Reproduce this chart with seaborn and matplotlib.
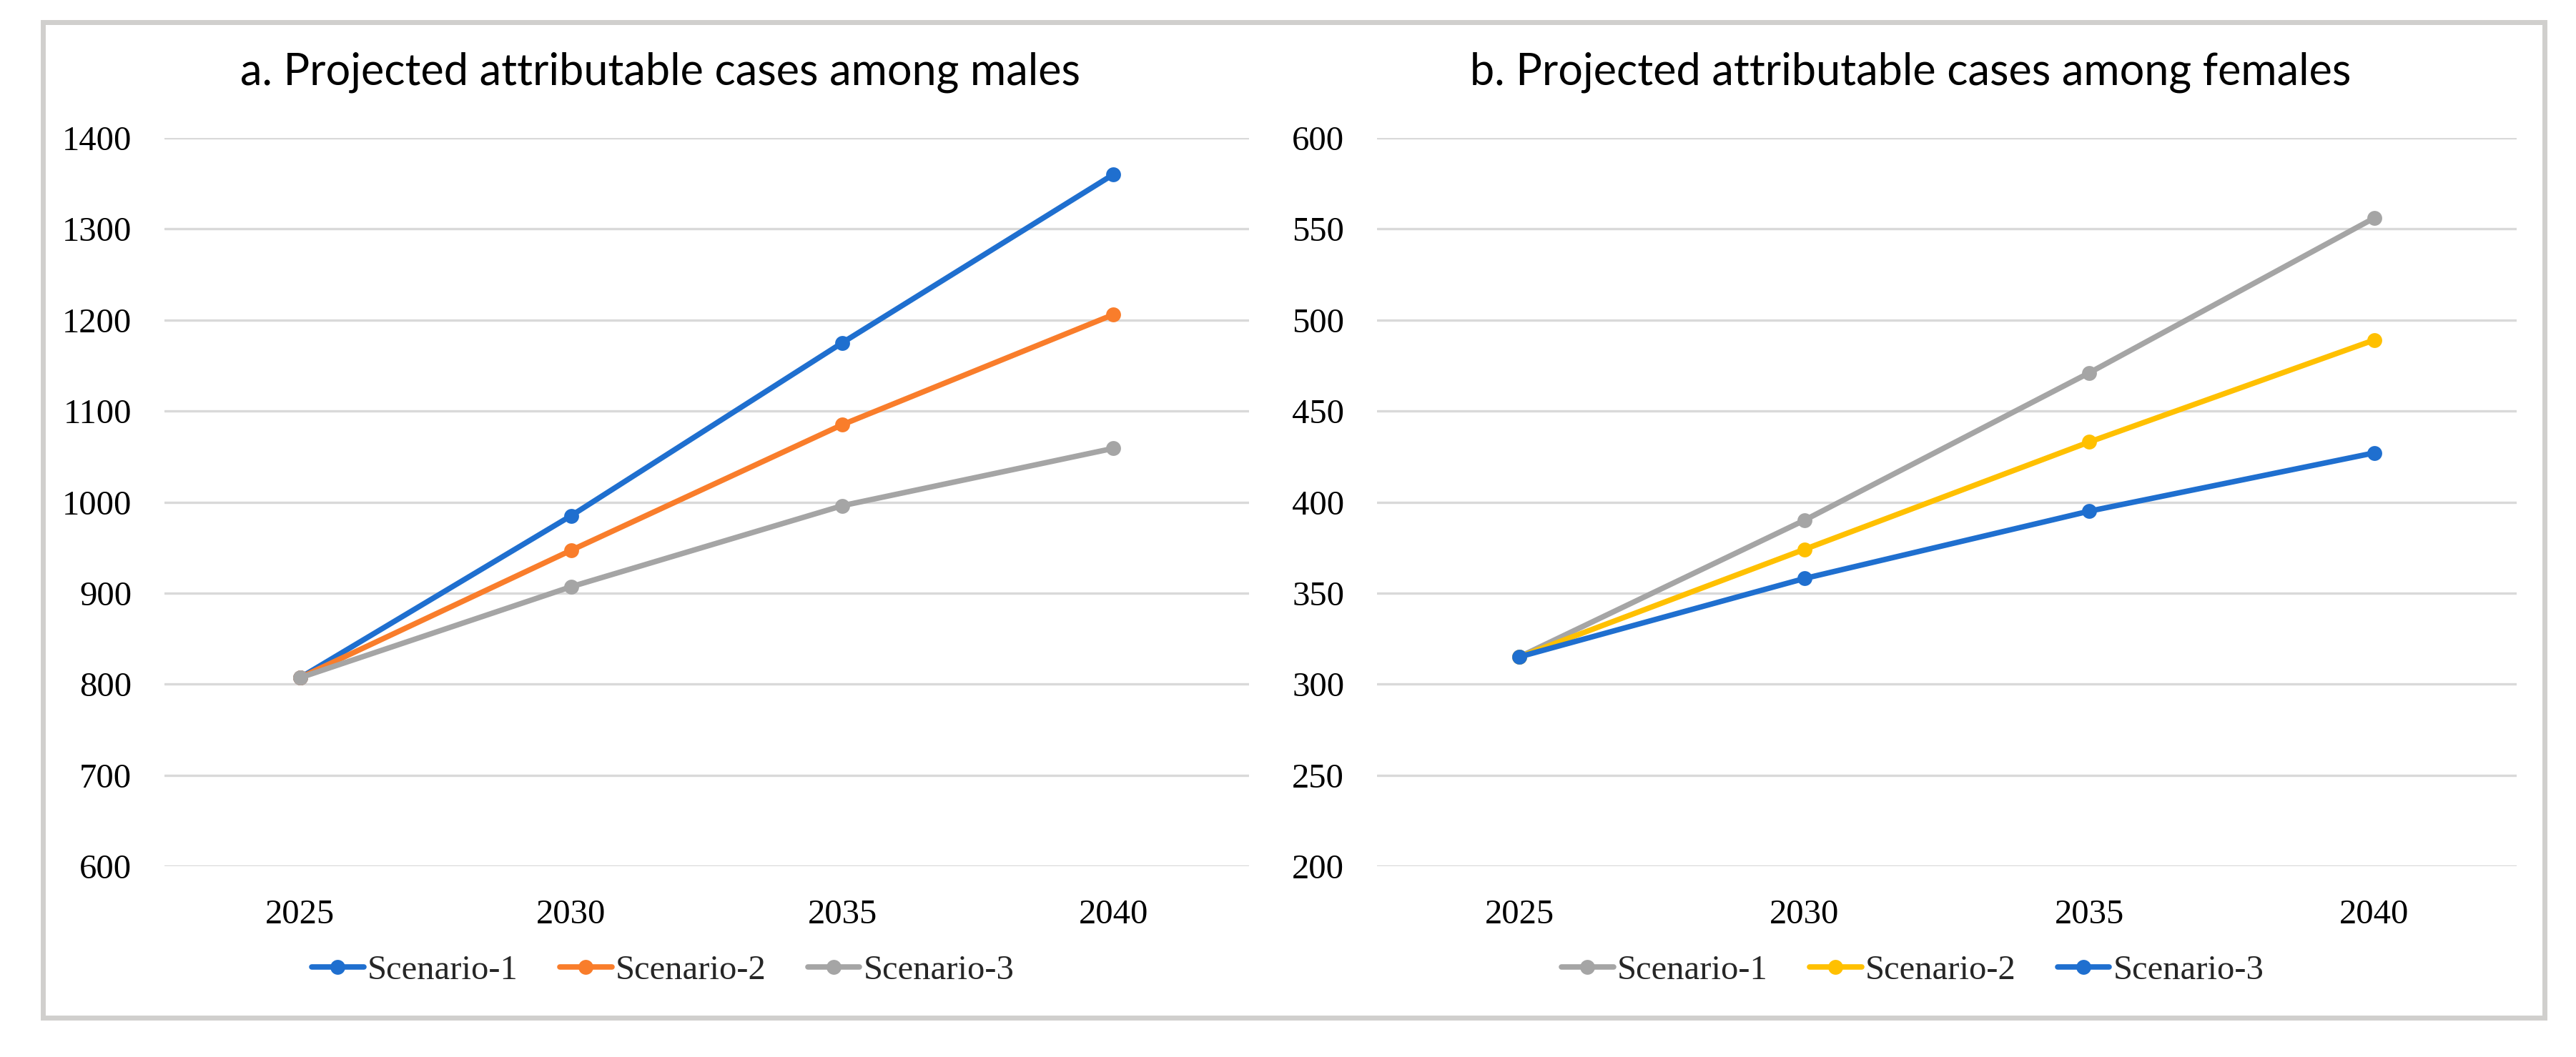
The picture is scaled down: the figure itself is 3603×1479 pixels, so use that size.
import matplotlib
matplotlib.use("Agg")
import matplotlib.pyplot as plt
import seaborn as sns
import pandas as pd
from matplotlib.patches import Rectangle

# data
years = [2025, 2030, 2035, 2040]
scenarios = ["Scenario-1", "Scenario-2", "Scenario-3"]

males_s1 = [807, 985, 1175, 1360]
males_s2 = [807, 947, 1085, 1206]
males_s3 = [807, 907, 996, 1059]

females_s1 = [315, 390, 471, 556]
females_s2 = [315, 374, 433, 489]
females_s3 = [315, 358, 395, 427]

male_ticks = [600, 700, 800, 900, 1000, 1100, 1200, 1300, 1400]
female_ticks = [200, 250, 300, 350, 400, 450, 500, 550, 600]

titles = ["a. Projected attributable cases among males",
          "b. Projected attributable cases among females"]

male_colors = ["#1F6FCF", "#F97D2B", "#A5A5A5"]
female_colors = ["#A5A5A5", "#FFC000", "#1F6FCF"]


def long_df(s1, s2, s3):
    rows = []
    for name, vals in zip(scenarios, [s1, s2, s3]):
        for y, v in zip(years, vals):
            rows.append({"Year": y, "Scenario": name, "Cases": v})
    return pd.DataFrame(rows)


df_m = long_df(males_s1, males_s2, males_s3)
df_f = long_df(females_s1, females_s2, females_s3)

sns.set_theme(style="white")
plt.rcParams["font.family"] = ["Liberation Serif", "DejaVu Serif"]

W, H = 3603, 1479
fig = plt.figure(figsize=(W / 100, H / 100), dpi=100)

# outer grey frame
fig.patches.append(Rectangle((60 / W, 1 - 1424 / H), (3559 - 60) / W, (1424 - 31) / H,
                             transform=fig.transFigure, fill=False,
                             edgecolor="#D0CFCD", linewidth=5))

bottom = 1 - 1212 / H
height = (1212 - 193) / H
ax1 = fig.add_axes([230 / W, bottom, 1517 / W, height])
ax2 = fig.add_axes([1926 / W, bottom, 1594 / W, height])

panels = [
    (ax1, df_m, male_colors, male_ticks, 924, 927),
    (ax2, df_f, female_colors, female_ticks, 2672, 2675),
]

for i, (ax, df, cols, ticks, tx, lx) in enumerate(panels):
    sns.lineplot(data=df, x="Year", y="Cases", hue="Scenario", hue_order=scenarios,
                 palette=cols, marker="o", markersize=15, markeredgewidth=0,
                 linewidth=5.5, ax=ax)
    ax.set_xlim(2022.5, 2042.5)
    ax.set_ylim(ticks[0], ticks[-1])
    ax.set_xticks(years)
    ax.set_yticks(ticks)
    ax.set_xlabel("")
    ax.set_ylabel("")
    ax.grid(axis="y", color="#D9D9D9", linewidth=2.4)
    ax.set_axisbelow(True)
    for s in ax.spines.values():
        s.set_visible(False)
    ax.tick_params(axis="both", length=0, labelsize=35, colors="black")
    ax.tick_params(axis="y", pad=33)
    ax.tick_params(axis="x", pad=33)
    sns.move_legend(ax, "center", bbox_to_anchor=(lx / W, 1 - 1358 / H),
                    bbox_transform=fig.transFigure, ncol=3, frameon=False,
                    title=None, fontsize=35, handlelength=1.5,
                    handletextpad=0.1, columnspacing=1.2)
    fig.text(tx / W, 1 - 101 / H, titles[i], ha="center", va="center",
             fontsize=44, family=["Lato", "DejaVu Sans"], color="black")

fig.savefig("out.png", dpi=100)
